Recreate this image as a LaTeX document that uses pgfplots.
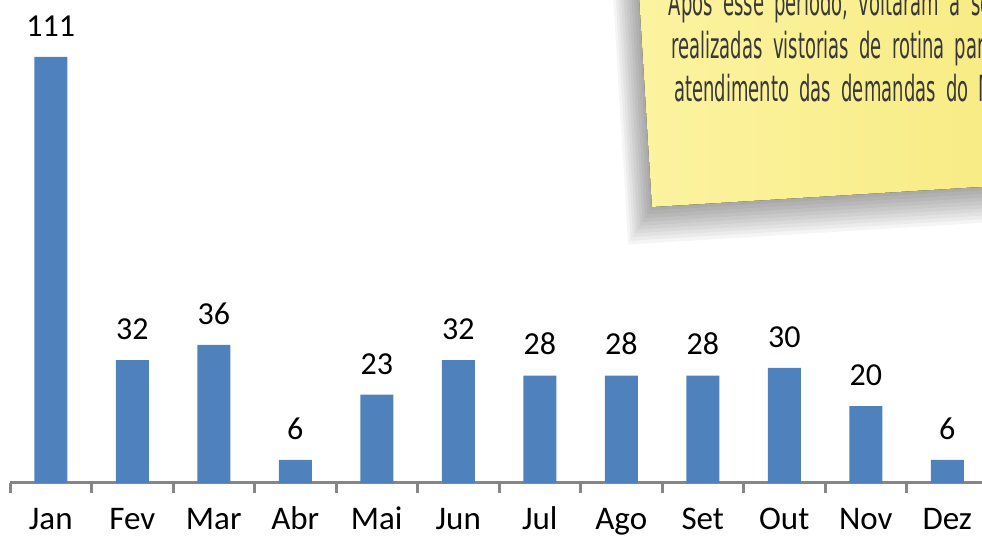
\documentclass[border=0pt]{standalone}
\usepackage{pgfplots}
\pgfplotsset{compat=1.18}
\usepackage{fontspec}
\setmainfont{Carlito}
\newfontfamily\notefont[FakeStretch=0.5, WordSpace=1.8]{DejaVu Sans}
\definecolor{barblue}{RGB}{79,129,189}
\definecolor{axgray}{RGB}{134,134,134}
\definecolor{noteL}{RGB}{252,243,160}
\definecolor{noteR}{RGB}{244,228,105}
\begin{document}
\begin{tikzpicture}
\useasboundingbox (0,0) rectangle (491pt,269.5pt);
\clip (0,0) rectangle (491pt,269.5pt);
\begin{axis}[
  at={(5pt,28pt)}, anchor=south west,
  scale only axis, width=489pt, height=241.5pt,
  xmin=-0.5, xmax=11.5, ymin=0, ymax=125.85,
  axis y line=none,
  axis x line*=bottom,
  x axis line style={axgray, line width=1.5pt, -},
  xtick={0,...,11},
  xticklabels={Jan,Fev,Mar,Abr,Mai,Jun,Jul,Ago,Set,Out,Nov,Dez},
  major tick length=0pt,
  xticklabel style={font=\fontsize{16.5}{19}\selectfont, anchor=base, yshift=-23.5pt},
  extra x ticks={-0.5,0.5,...,11.5},
  extra x tick labels={},
  extra x tick style={major tick length=5pt, tick align=outside, tick style={axgray, line width=1.5pt}},
  ybar, bar width=16.5pt,
  /pgf/number format/assume math mode=true,
  nodes near coords,
  every node near coord/.append style={font=\fontsize{16}{19}\selectfont, inner sep=0pt, yshift=10pt, anchor=south},
]
\addplot[fill=barblue, draw=none] coordinates {(0,111) (1,32) (2,36) (3,6) (4,23) (5,32) (6,28) (7,28) (8,28) (9,30) (10,20) (11,6)};
\end{axis}
\begin{scope}[shift={(326pt,166pt)}, rotate=3.5]
  \foreach \i in {1,...,10} {
    \fill[black, opacity=0.04] (-1.3*\i pt, -1.8*\i pt) rectangle (360pt, 160pt);
  }
  \fill[left color=noteL, right color=noteR] (0,0) rectangle (360pt,160pt);
  \node[anchor=base west, inner sep=0pt, text=black!78, font=\notefont\fontsize{18}{20}\selectfont] at (14pt,95pt) {Após esse período, voltaram a ser};
  \node[anchor=base west, inner sep=0pt, text=black!78, font=\notefont\fontsize{18}{20}\selectfont] at (14pt,73.5pt) {realizadas vistorias de rotina para};
  \node[anchor=base west, inner sep=0pt, text=black!78, font=\notefont\fontsize{18}{20}\selectfont] at (14pt,52pt) {atendimento das demandas do MP};
\end{scope}
\end{tikzpicture}
\end{document}
